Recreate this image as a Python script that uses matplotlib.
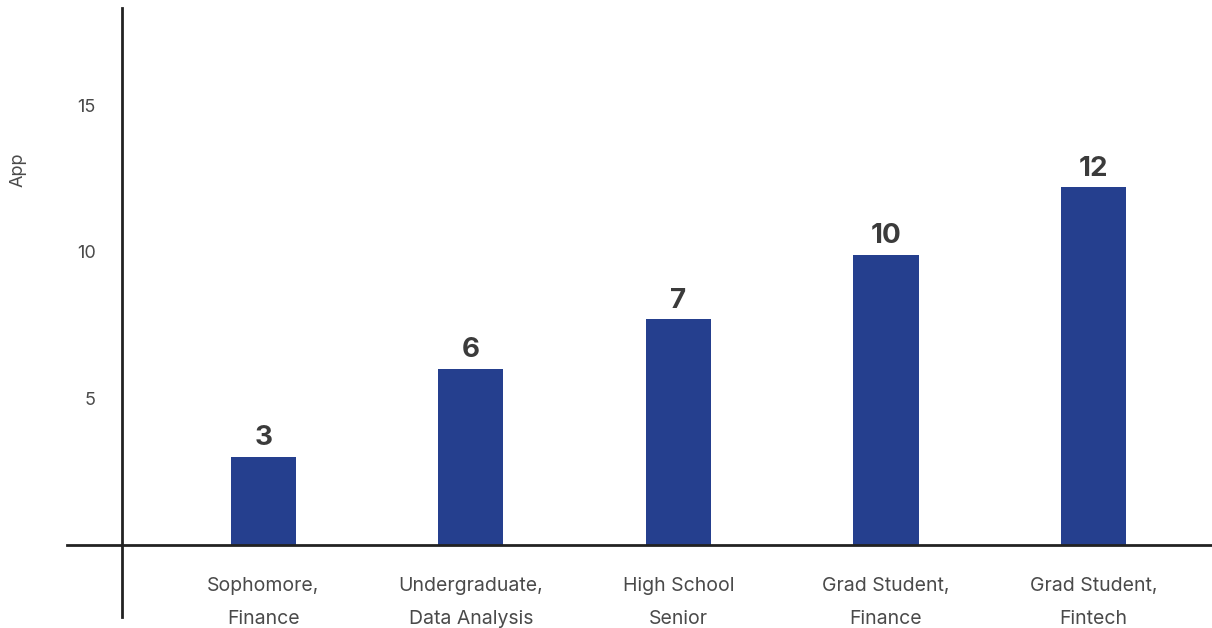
import numpy as np
import matplotlib.pyplot as plt

plt.rcParams['font.family'] = ['Inter', 'DejaVu Sans']

# data
categories = ['Sophomore,\nFinance', 'Undergraduate,\nData Analysis', 'High School\nSenior',
              'Grad Student,\nFinance', 'Grad Student,\nFintech']
heights = [3.0, 6.0, 7.7, 9.9, 12.2]
value_labels = ['3', '6', '7', '10', '12']
yticks = [5, 10, 15]

bar_color = '#253f8e'
text_color = '#4a4a4a'
value_color = '#3b3b3b'

fig = plt.figure(figsize=(12.12, 6.28), dpi=100)
ax = fig.add_axes([67 / 1212, 1 - 617 / 628, 1 - 67 / 1212, (617 - 8) / 628])

x = np.arange(len(categories))
ax.bar(x, heights, width=0.314, color=bar_color, zorder=2)

for xi, h, lab in zip(x, heights, value_labels):
    ax.annotate(lab, (xi, h), xytext=(0, 4), textcoords='offset points',
                ha='center', va='bottom', fontsize=20, fontweight='bold', color=value_color)

# axes span in data units (spines cross at x=-0.7, y=0)
ax.set_xlim(-0.945, 4.57)
ax.set_ylim(-2.455, 18.31)

for s in ['top', 'right']:
    ax.spines[s].set_visible(False)
ax.spines['left'].set_position(('data', -0.68))
ax.spines['bottom'].set_position(('data', 0))
for s in ['left', 'bottom']:
    ax.spines[s].set_color('#222222')
    ax.spines[s].set_linewidth(2)
    ax.spines[s].set_zorder(3)

ax.set_xticks(x)
ax.set_xticklabels(categories, fontsize=14, color=text_color, linespacing=2.1)
ax.set_yticks(yticks)
ax.set_yticklabels([str(t) for t in yticks], fontsize=13, color=text_color)
ax.tick_params(axis='x', length=0, pad=23)
ax.tick_params(axis='y', length=0, pad=19)

ax.set_ylabel('App', fontsize=13, color=text_color)
ax.yaxis.set_label_coords(-0.035, 0.734)

fig.savefig('out.png', dpi=100)
